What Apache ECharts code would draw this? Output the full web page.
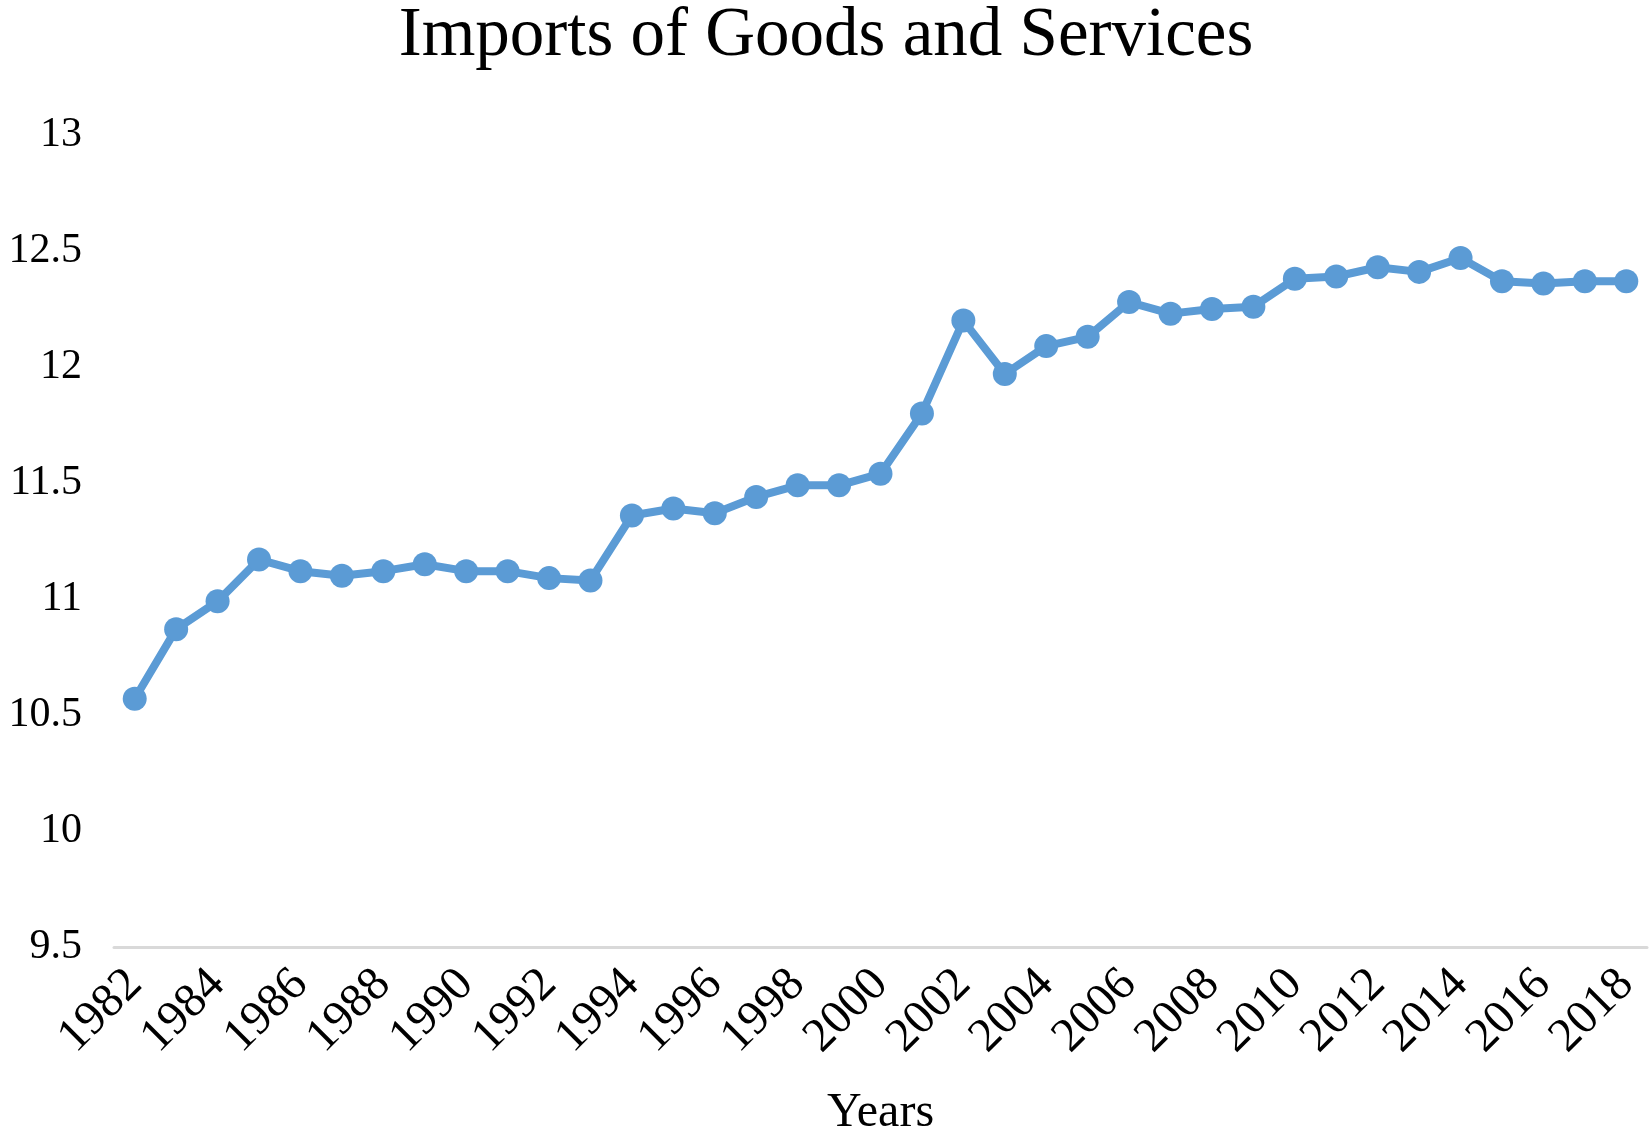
<!DOCTYPE html>
<html>
<head>
<meta charset="utf-8">
<script src="https://cdn.jsdelivr.net/npm/echarts@6/dist/echarts.min.js"></script>
<style>
  html, body { margin: 0; padding: 0; background: #fff; }
  #main { width: 1652px; height: 1137px; }
</style>
</head>
<body>
<div id="main"></div>
<script>
// years 1982 - 2018
const years = [
  '1982', '1983', '1984', '1985', '1986', '1987', '1988', '1989', '1990', '1991',
  '1992', '1993', '1994', '1995', '1996', '1997', '1998', '1999', '2000', '2001',
  '2002', '2003', '2004', '2005', '2006', '2007', '2008', '2009', '2010', '2011',
  '2012', '2013', '2014', '2015', '2016', '2017', '2018'
];
// imports of goods and services (log)
const imports = [
  10.57, 10.87, 10.99, 11.17, 11.12, 11.10, 11.12, 11.15, 11.12, 11.12,
  11.09, 11.08, 11.36, 11.39, 11.37, 11.44, 11.49, 11.49, 11.54, 11.80,
  12.20, 11.97, 12.09, 12.13, 12.28, 12.23, 12.25, 12.26, 12.38, 12.39,
  12.43, 12.41, 12.47, 12.37, 12.36, 12.37, 12.37
];
const yMin = 9.5;
const yMax = 13;
const yStep = 0.5;

const font = '"Liberation Serif", "Times New Roman", serif';
const myChart = echarts.init(document.getElementById('main'));
myChart.setOption({
  animation: false,
  title: {
    text: 'Imports of Goods and Services',
    left: 'center',
    top: -3,
    textStyle: {
      color: '#000',
      fontFamily: font,
      fontWeight: 'normal',
      fontSize: 69,
    },
  },
  grid: {
    left: 114,
    right: 5,
    top: 135,
    bottom: 190,
    containLabel: false,
    outerBoundsMode: 'none',
  },
  xAxis: {
    type: 'category',
    data: years,
    boundaryGap: true,
    name: 'Years',
    nameLocation: 'middle',
    nameGap: 142,
    nameTextStyle: {
      color: '#000',
      fontFamily: font,
      fontSize: 48,
    },
    axisLine: {
      show: true,
      lineStyle: { color: '#D9D9D9', width: 3 },
    },
    axisTick: { show: false },
    axisLabel: {
      interval: 1,
      rotate: 45,
      margin: 30,
      color: '#000',
      fontFamily: font,
      fontSize: 48,
    },
  },
  yAxis: {
    type: 'value',
    min: yMin,
    max: yMax,
    interval: yStep,
    axisLine: { show: false },
    axisTick: { show: false },
    splitLine: { show: false },
    axisLabel: {
      margin: 32,
      color: '#000',
      fontFamily: font,
      fontSize: 42,
    },
  },
  series: [
    {
      name: 'Imports',
      type: 'line',
      data: imports,
      symbol: 'circle',
      symbolSize: 24,
      color: '#5B9BD5',
      lineStyle: { width: 8, color: '#5B9BD5' },
      itemStyle: { color: '#5B9BD5' },
    },
  ],
});
</script>
</body>
</html>
